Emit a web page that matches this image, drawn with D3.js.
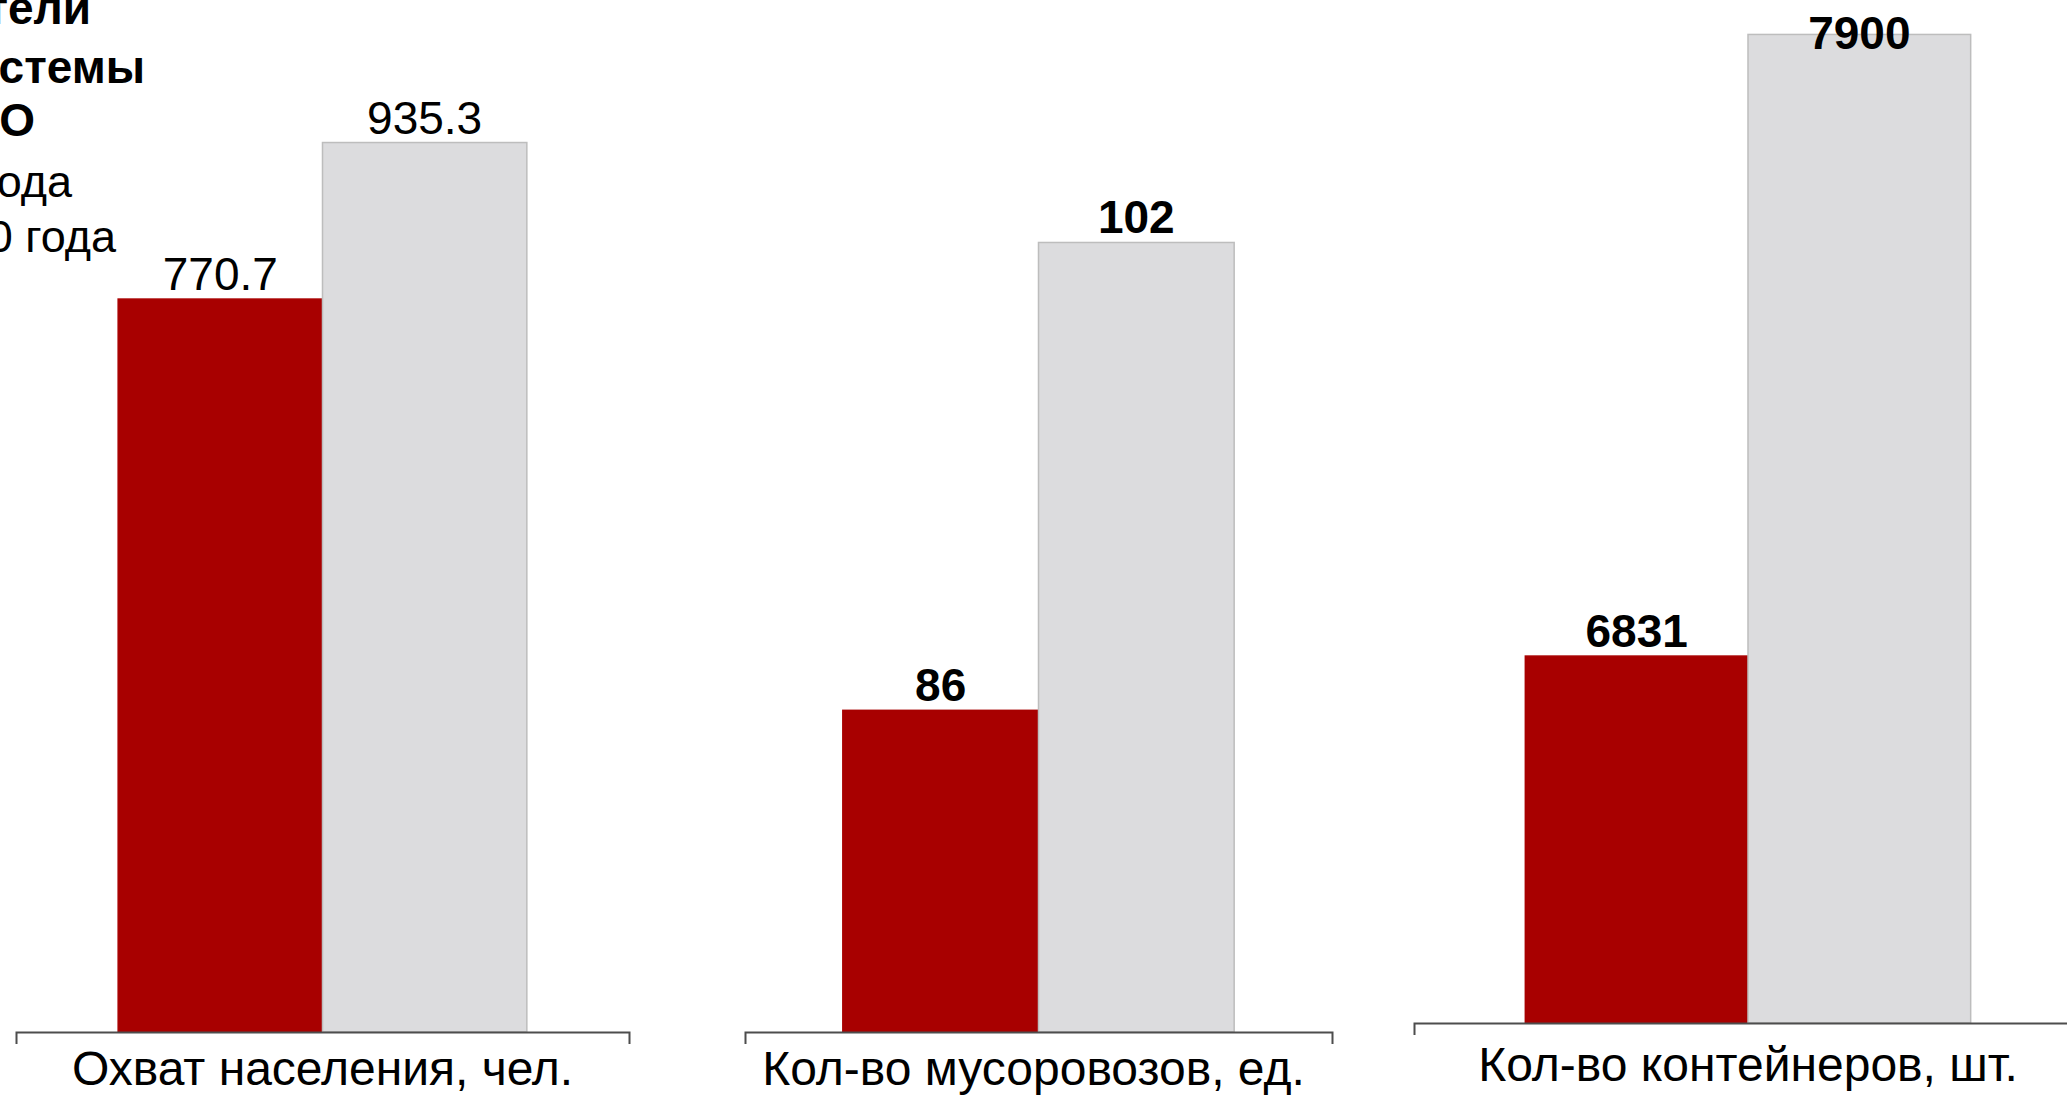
<!DOCTYPE html>
<html><head><meta charset="utf-8">
<script src="https://cdn.jsdelivr.net/npm/d3@7/dist/d3.min.js"></script>
<style>
html,body{margin:0;padding:0;background:#fff;overflow:hidden;}
svg{display:block;font-family:"Liberation Sans",Arial,sans-serif;}
</style></head>
<body>
<script>
// ---- data ----
const categories = ["Охват населения, чел.", "Кол-во мусоровозов, ед.", "Кол-во контейнеров, шт."];
const seriesNames = ["2019 года", "2020 года"];
const values2019 = [770.7, 86, 6831];
const values2020 = [935.3, 102, 7900];
const valueLabels2019 = ["770.7", "86", "6831"];
const valueLabels2020 = ["935.3", "102", "7900"];
const axisMin = [0, 75, 6200];
const axisMax = [1000, 105, 8000];
const titleLines = ["Показатели", "системы", "ТКО"];

// ---- layout (style only) ----
const W = 2067, H = 1097;
const panels = [
  {x0: 16,   x1: 629,  base: 1032, top: 81,     labelBold: false, pad: 19, dx: 0},
  {x0: 745,  x1: 1332, base: 1032, top: 154.75, labelBold: true,  pad: 19, dx: -5},
  {x0: 1414, x1: 2082, base: 1023, top: -23.7,  labelBold: true,  pad: 24, dx: 0}
];
const colors = ["#a80000", "#dcdcde"];
const strokes = ["#a80000", "#bdbdbd"];

const svg = d3.select("body").append("svg").attr("width", W).attr("height", H);

categories.forEach((cat, i) => {
  const p = panels[i];
  const g = svg.append("g");
  const x = d3.scaleBand().domain([cat]).range([p.x0, p.x1]).paddingInner(0).paddingOuter(0.25);
  const xs = d3.scaleBand().domain(seriesNames).range([x(cat), x(cat) + x.bandwidth()]);
  const y = d3.scaleLinear().domain([axisMin[i], axisMax[i]]).range([p.base, p.top]);
  const vals = [values2019[i], values2020[i]];
  const labs = [valueLabels2019[i], valueLabels2020[i]];
  const rows = seriesNames.map((s, k) => ({s, v: vals[k], lab: labs[k], k}));

  g.selectAll("rect.bar").data(rows).join("rect")
    .attr("class", "bar")
    .attr("x", d => xs(d.s))
    .attr("y", d => y(d.v))
    .attr("width", xs.bandwidth())
    .attr("height", d => p.base - y(d.v))
    .attr("fill", d => colors[d.k])
    .attr("stroke", d => strokes[d.k])
    .attr("stroke-width", 1.5);

  g.selectAll("text.val").data(rows).join("text")
    .attr("class", "val")
    .attr("x", d => xs(d.s) + xs.bandwidth() / 2)
    .attr("y", d => Math.max(y(d.v) - 9, 49))
    .attr("text-anchor", "middle")
    .attr("font-size", 46)
    .attr("font-weight", p.labelBold ? "bold" : "normal")
    .attr("fill", "#000")
    .text(d => d.lab);

  const ax = g.append("g")
    .attr("transform", `translate(0,${p.base})`)
    .call(d3.axisBottom(x).tickSizeInner(0).tickSizeOuter(12).tickPadding(p.pad));
  ax.select(".domain").attr("stroke", "#4d4d4d").attr("stroke-width", 2);
  ax.selectAll(".tick line").remove();
  ax.selectAll(".tick text")
    .attr("dx", p.dx)
    .attr("font-size", 48)
    .attr("font-family", "'Liberation Sans', Arial, sans-serif")
    .attr("fill", "#000");
});

// ---- title / legend (clipped at left edge as in the reference) ----
const titleEnds = [91, 145, 35];
const titleBase = [24, 83, 136];
svg.selectAll("text.title").data(titleLines).join("text")
  .attr("class", "title")
  .attr("x", (d, i) => titleEnds[i])
  .attr("y", (d, i) => titleBase[i])
  .attr("text-anchor", "end")
  .attr("font-size", 46)
  .attr("font-weight", "bold")
  .text(d => d);

const legendEnds = [72, 116];
const legendBase = [197, 252];
svg.selectAll("text.legend").data(seriesNames).join("text")
  .attr("class", "legend")
  .attr("x", (d, i) => legendEnds[i])
  .attr("y", (d, i) => legendBase[i])
  .attr("text-anchor", "end")
  .attr("font-size", 45)
  .text(d => d);
</script>
</body></html>
